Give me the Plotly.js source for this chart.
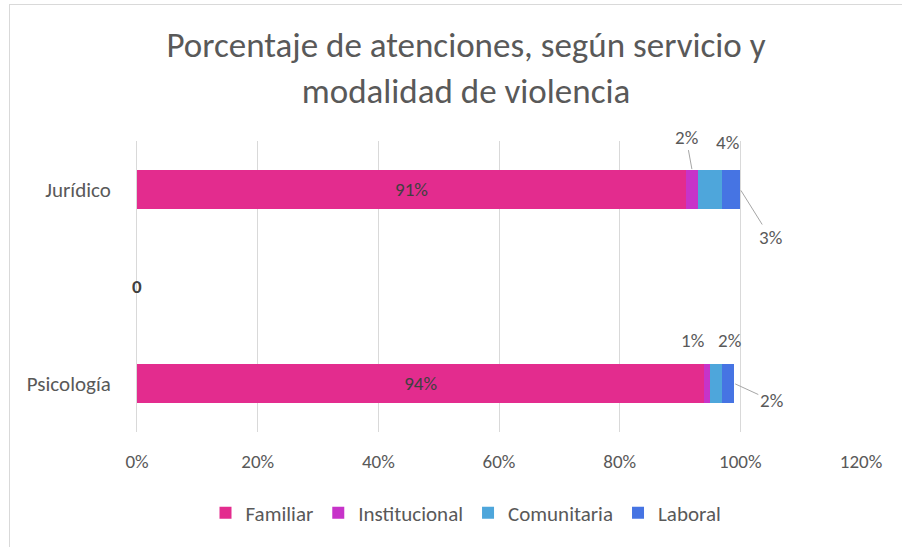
<!DOCTYPE html>
<html>
<head>
<meta charset="utf-8">
<script src="https://cdn.plot.ly/plotly-3.0.1.min.js"></script>
<style>
  html, body { margin: 0; padding: 0; background: #ffffff; }
  #chart { position: absolute; left: 0; top: 0; width: 902px; height: 547px; }
  #frame { position: absolute; left: 9px; top: 4px; width: 900px; height: 560px;
           border-left: 1px solid #d9d9d9; border-top: 1px solid #d9d9d9; pointer-events: none; }
</style>
</head>
<body>
<div id="chart"></div>
<div id="frame"></div>
<script>
// ---- data ----
const categories = ['Psicología', '0', 'Jurídico'];
const seriesNames = ['Familiar', 'Institucional', 'Comunitaria', 'Laboral'];
const familiar      = [94, null, 91];
const institucional = [1,  null, 2];
const comunitaria   = [2,  null, 4];
const laboral       = [2,  null, 3];
const tickLabels = ['Psicología', '', 'Jurídico'];
const emptyRowLabel = '0';

// ---- styles ----
const colors = ['#E32C8E', '#C733C9', '#4EA6DB', '#4674E3'];
const FONT = 'Carlito, Lato, "Liberation Sans", sans-serif';
const GREY = '#595959';
const BARW = 0.4;

const allSeries = [familiar, institucional, comunitaria, laboral];
const traces = allSeries.map((vals, i) => ({
  type: 'bar',
  orientation: 'h',
  name: seriesNames[i],
  y: categories,
  x: vals,
  width: BARW,
  marker: { color: colors[i], line: { width: 0 } },
  text: i === 0 ? vals.map(v => v == null ? '' : v + '%') : undefined,
  textposition: i === 0 ? 'inside' : 'none',
  insidetextanchor: 'middle',
  textfont: { family: FONT, size: 19, color: '#404040' },
  hoverinfo: 'x+name'
}));

// outside labels for the small segments (computed from the data)
function cum(catIdx, upto) {
  let s = 0;
  for (let k = 0; k < upto; k++) s += allSeries[k][catIdx] || 0;
  return s;
}
const half = BARW / 2;
const annSpec = [
  // [catIdx, seriesIdx, where, ax, ay, showLine]
  [2, 1, 'top',   -6, -33, true],
  [2, 2, 'top',   17, -28, false],
  [2, 3, 'right', 30,  48, true],
  [0, 1, 'top',  -15, -24, false],
  [0, 2, 'top',   13, -24, false],
  [0, 3, 'right', 37,  17, true]
];
const annotations = annSpec.map(([c, s, where, ax, ay, line]) => {
  const start = cum(c, s);
  const v = allSeries[s][c];
  const x = where === 'right' ? start + v : start + v / 2;
  const y = where === 'right' ? c : c + half;
  return {
    x: x, y: y, xref: 'x', yref: 'y',
    text: v + '%',
    showarrow: true, arrowhead: 0, arrowwidth: 1,
    arrowcolor: line ? '#a6a6a6' : 'rgba(0,0,0,0)',
    ax: ax, ay: ay, standoff: 1,
    font: { family: FONT, size: 19, color: GREY }
  };
});
// label of the empty row, drawn on the axis line
annotations.push({
  x: 0, xref: 'paper', y: categories.indexOf(emptyRowLabel), yref: 'y',
  text: '<b>' + emptyRowLabel + '</b>', showarrow: false,
  xanchor: 'center', yanchor: 'middle',
  font: { family: FONT, size: 19, color: '#404040' }
});

const layout = {
  width: 902, height: 547,
  paper_bgcolor: '#ffffff', plot_bgcolor: '#ffffff',
  barmode: 'stack',
  margin: { l: 137, r: 41, t: 141, b: 115 },
  title: {
    text: 'Porcentaje de atenciones, según servicio y<br>modalidad de violencia',
    font: { family: FONT, size: 35, color: GREY },
    x: 466 / 902, xanchor: 'center', xref: 'container',
    y: 0.895, yanchor: 'top', yref: 'container'
  },
  xaxis: {
    range: [0, 120],
    tickvals: [0, 20, 40, 60, 80, 100, 120],
    ticktext: ['0%', '20%', '40%', '60%', '80%', '100%', '120%'],
    showgrid: true, gridcolor: '#d9d9d9', gridwidth: 1,
    zeroline: false, showline: false, ticks: '',
    tickfont: { family: FONT, size: 19, color: GREY },
    ticklabelstandoff: 16,
    fixedrange: true
  },
  yaxis: {
    type: 'category',
    categoryorder: 'array', categoryarray: categories,
    tickvals: categories, ticktext: tickLabels,
    range: [-0.5, 2.5],
    showgrid: false, zeroline: false,
    showline: true, linecolor: '#d9d9d9', linewidth: 1,
    ticks: '',
    tickfont: { family: FONT, size: 21, color: GREY },
    ticklabelstandoff: 21,
    fixedrange: true
  },
  showlegend: true,
  legend: {
    orientation: 'h',
    x: 466 / 902, xanchor: 'center', xref: 'container',
    y: 0.062, yanchor: 'middle', yref: 'container',
    font: { family: FONT, size: 21, color: GREY },
    traceorder: 'normal',
    itemwidth: 30
  },
  annotations: annotations
};

Plotly.newPlot('chart', traces, layout, { displayModeBar: false, staticPlot: true });
</script>
</body>
</html>
